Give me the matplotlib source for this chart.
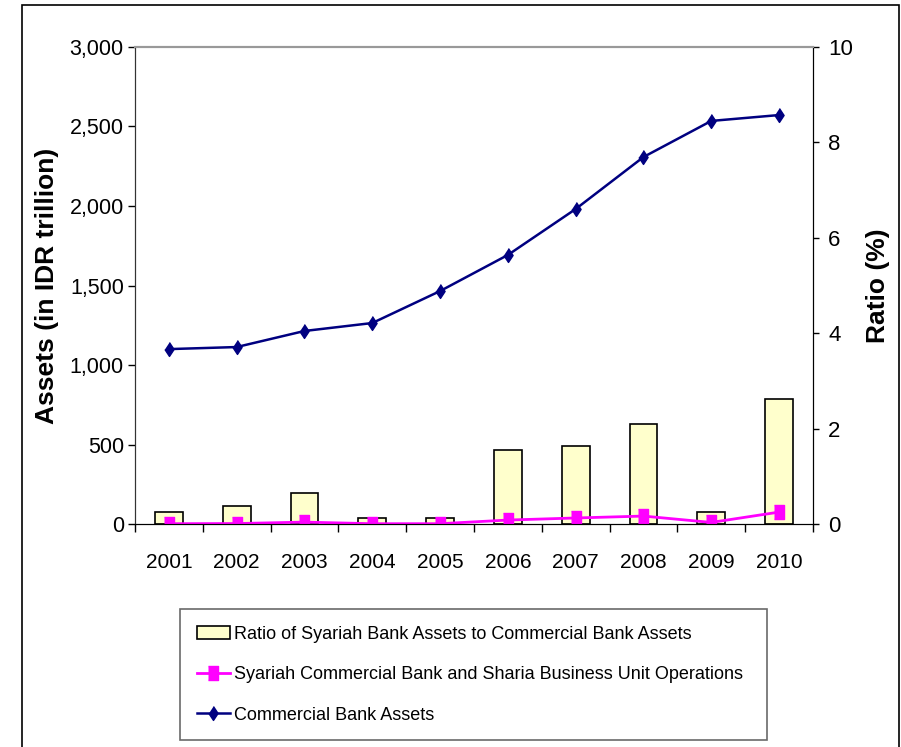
import numpy as np
import matplotlib
matplotlib.use('Agg')
from matplotlib import pyplot as plt
from matplotlib.patches import Rectangle

plt.rcParams['font.family'] = ['Liberation Sans', 'DejaVu Sans']

years = ['2001', '2002', '2003', '2004', '2005', '2006', '2007', '2008', '2009', '2010']
ratio = [0.25, 0.38, 0.66, 0.13, 0.13, 1.55, 1.63, 2.09, 0.25, 2.63]
syariah = [2, 3, 12, 2, 2, 25, 38, 50, 10, 75]
commercial = [1100, 1113, 1214, 1264, 1465, 1692, 1981, 2308, 2535, 2572]

fig = plt.figure(figsize=(9.01, 7.47), dpi=100)
ax = fig.add_axes([0.1498, 0.2985, 0.7525, 0.6386])
ax2 = ax.twinx()

x = np.arange(len(years))

# bars on the ratio axis, lines on the assets axis
bars = ax2.bar(x, ratio, width=0.41, color='#FFFFCC', edgecolor='black', linewidth=1.2,
               label='Ratio of Syariah Bank Assets to Commercial Bank Assets')
# excel style markers: a bit taller than wide
rect = [(-0.36, -0.5), (0.36, -0.5), (0.36, 0.5), (-0.36, 0.5)]
diam = [(0, 0.5), (0.33, 0), (0, -0.5), (-0.33, 0)]
l1, = ax.plot(x, syariah, color='#FF00FF', lw=2, marker=rect, ms=10.5, mec='#FF00FF',
              label='Syariah Commercial Bank and Sharia Business Unit Operations')
l2, = ax.plot(x, commercial, color='#000080', lw=1.8, marker=diam, ms=10, mec='#000080',
              label='Commercial Bank Assets')
ax.set_zorder(ax2.get_zorder() + 1)
ax.patch.set_visible(False)

ax.set_xlim(-0.5, len(years) - 0.5)
ax.set_ylim(0, 3000)
ax2.set_ylim(0, 10)
ax.set_yticks(np.arange(0, 3001, 500))
ax.set_yticklabels([f'{v:,}' for v in range(0, 3001, 500)])
ax2.set_yticks(np.arange(0, 11, 2))

ax.set_xticks(x)
ax.set_xticklabels(years)
ax.set_xticks(np.arange(-0.5, len(years), 1), minor=True)
ax.tick_params(axis='x', which='major', length=0, pad=21, labelsize=15)
ax.tick_params(axis='x', which='minor', length=6, width=1)
ax.tick_params(axis='y', length=5, width=1, pad=3, labelsize=15.5)
ax2.tick_params(axis='y', length=4, width=1, pad=7, labelsize=16)

for a in (ax, ax2):
    a.spines['top'].set_color('#999999')
    a.spines['top'].set_linewidth(1.5)
    a.spines['left'].set_color('#333333')
    a.spines['right'].set_color('black')

ax.set_ylabel('Assets (in IDR trillion)', fontsize=19, fontweight='bold')
ax.yaxis.set_label_coords(-0.112, 0.5)
ax2.set_ylabel('Ratio (%)', fontsize=19, fontweight='bold')
ax2.yaxis.set_label_coords(1.078, 0.5)

leg = fig.legend(handles=[bars, l1, l2], loc='upper left',
                 bbox_to_anchor=(0.1998, 0.008, 0.6515, 0.1767), mode='expand',
                 fontsize=13, frameon=True, fancybox=False, edgecolor='#444444',
                 handlelength=1.85, handletextpad=0.2, labelspacing=1.3,
                 borderpad=0.92, borderaxespad=0)
leg.get_frame().set_linewidth(1.2)

# outer chart border
fig.patches.append(Rectangle((22 / 901, -0.02), 877 / 901, 1.02 - 5 / 747,
                             transform=fig.transFigure, fill=False,
                             edgecolor='black', linewidth=1.2))

fig.savefig('out.png', dpi=100)
